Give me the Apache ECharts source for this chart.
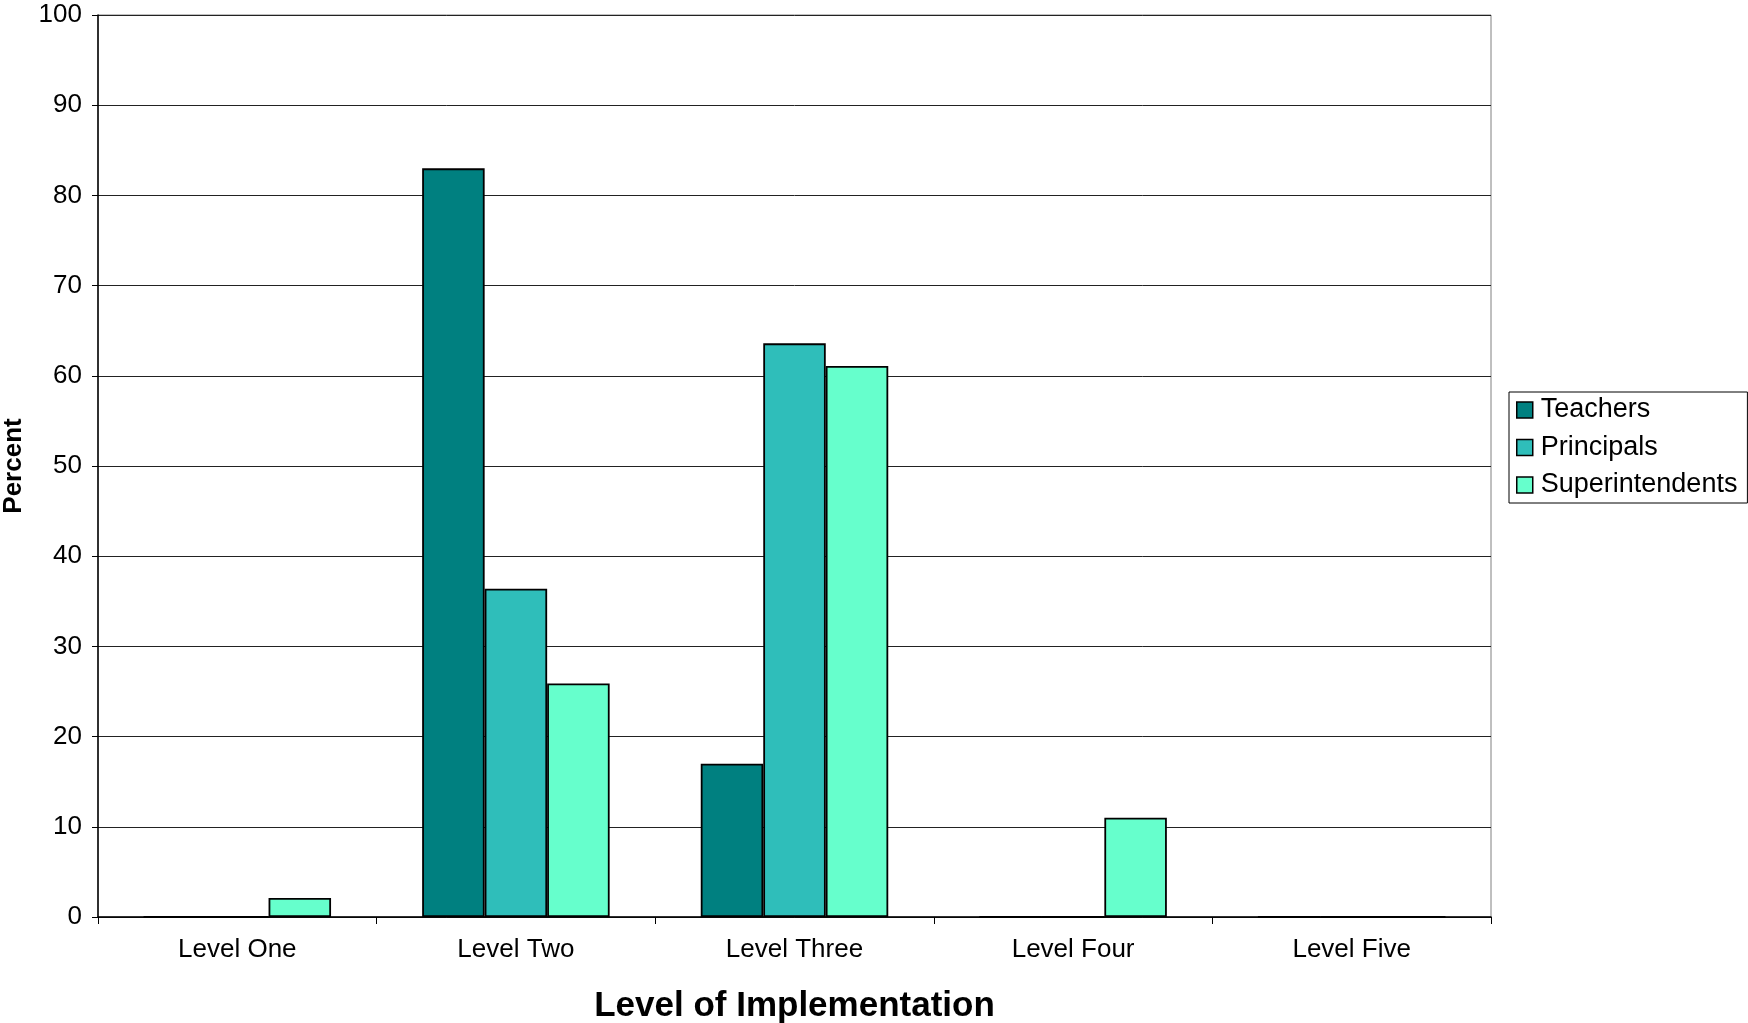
<!DOCTYPE html>
<html>
<head>
<meta charset="utf-8">
<title>Level of Implementation</title>
<script src="https://cdn.jsdelivr.net/npm/echarts@6/dist/echarts.min.js"></script>
<style>
  html, body { margin: 0; padding: 0; background: #fff; }
  #chart { width: 1748px; height: 1023px; }
</style>
</head>
<body>
<div id="chart"></div>
<script>
// Implementation level categories
const categories = ['Level One', 'Level Two', 'Level Three', 'Level Four', 'Level Five'];

// Percent of each group at each level
const teachers = [0, 83, 17, 0, 0];
const principals = [0, 36.4, 63.6, 0, 0];
const superintendents = [2.1, 25.9, 61.1, 11, 0];

const seriesNames = ['Teachers', 'Principals', 'Superintendents'];
const seriesColors = ['#008080', '#2FBEBA', '#66FFCC'];

const font = "'Liberation Sans', Arial, sans-serif";

const chart = echarts.init(document.getElementById('chart'), null, { renderer: 'canvas' });

function barSeries(name, data, color) {
  return {
    name: name,
    type: 'bar',
    data: data,
    barWidth: 62.5,
    barGap: '0%',
    itemStyle: { color: color, borderColor: '#000', borderWidth: 1.8 },
    emphasis: { disabled: true }
  };
}

chart.setOption({
  animation: false,
  backgroundColor: '#fff',
  grid: {
    left: 98, right: 257, top: 15, bottom: 106,
    containLabel: false,
    outerBoundsMode: 'none',
    show: true, borderColor: '#808080', borderWidth: 1, backgroundColor: 'transparent'
  },
  legend: {
    orient: 'vertical',
    left: 1509, top: 392,
    padding: [4, 10, 4, 7],
    backgroundColor: '#fff',
    borderColor: '#000',
    borderWidth: 1,
    itemWidth: 16, itemHeight: 16,
    itemGap: 9.5,
    icon: 'rect',
    textStyle: { fontFamily: font, fontSize: 27, color: '#000', lineHeight: 28, padding: [0, 0, 0, 3] },
    data: seriesNames.map((n, i) => ({
      name: n,
      itemStyle: { color: seriesColors[i], borderColor: '#000', borderWidth: 1.5 }
    }))
  },
  xAxis: {
    type: 'category',
    data: categories,
    boundaryGap: true,
    name: 'Level of Implementation',
    nameLocation: 'middle',
    nameGap: 72,
    nameTextStyle: { fontFamily: font, fontSize: 35, fontWeight: 'bold', color: '#000' },
    axisLine: { lineStyle: { color: '#000', width: 1.5 } },
    axisTick: { show: true, alignWithLabel: false, length: 7, inside: false, lineStyle: { color: '#000' } },
    axisLabel: { fontFamily: font, fontSize: 26, color: '#000', margin: 20 }
  },
  yAxis: {
    type: 'value',
    min: 0, max: 100, interval: 10,
    name: 'Percent',
    nameLocation: 'middle',
    nameGap: 71,
    nameTextStyle: { fontFamily: font, fontSize: 26, fontWeight: 'bold', color: '#000' },
    axisLine: { show: true, lineStyle: { color: '#000', width: 1.5 } },
    axisTick: { show: true, length: 6, lineStyle: { color: '#000' } },
    axisLabel: { fontFamily: font, fontSize: 26, color: '#000', margin: 16 },
    splitLine: { show: true, lineStyle: { color: '#222', width: 1 } }
  },
  series: [
    barSeries(seriesNames[0], teachers, seriesColors[0]),
    barSeries(seriesNames[1], principals, seriesColors[1]),
    barSeries(seriesNames[2], superintendents, seriesColors[2])
  ]
});
</script>
</body>
</html>
